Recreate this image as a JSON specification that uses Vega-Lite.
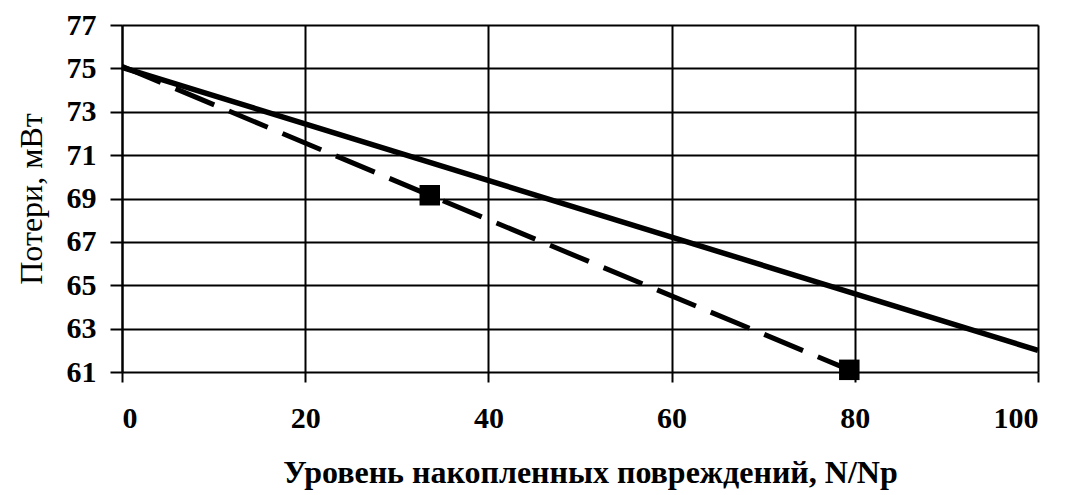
{
  "$schema": "https://vega.github.io/schema/vega-lite/v6.json",
  "autosize": {"type": "none"},
  "width": 916,
  "height": 347,
  "padding": {"left": 122, "top": 25, "right": 28, "bottom": 123},
  "background": "white",
  "config": {
    "view": {"stroke": null},
    "font": "Liberation Serif"
  },
  "datasets": {
    "solid": [
      {"x": 0, "y": 75.05},
      {"x": 100, "y": 62.0}
    ],
    "dashed": [
      {"x": 0, "y": 75.1},
      {"x": 33.6, "y": 69.15},
      {"x": 79.4, "y": 61.1}
    ],
    "markers": [
      {"x": 33.6, "y": 69.15},
      {"x": 79.4, "y": 61.1}
    ]
  },
  "encoding": {
    "x": {
      "field": "x", "type": "quantitative",
      "scale": {"domain": [0, 100], "nice": false, "zero": false},
      "axis": {
        "values": [0, 20, 40, 60, 80, 100],
        "title": "Уровень накопленных повреждений, N/Np",
        "titleFont": "Liberation Serif", "titleFontSize": 32, "titleFontWeight": "bold", "titleColor": "black",
        "titlePadding": 24, "titleX": 468,
        "labelFont": "Liberation Serif", "labelFontSize": 30, "labelFontWeight": "bold", "labelColor": "black",
        "labelPadding": 21,
        "tickSize": 10, "tickColor": "black", "tickWidth": 2,
        "grid": true, "gridColor": "black", "gridWidth": 2, "gridOpacity": 1,
        "domain": false
      }
    },
    "y": {
      "field": "y", "type": "quantitative",
      "scale": {"domain": [61, 77], "nice": false, "zero": false},
      "axis": {
        "values": [61, 63, 65, 67, 69, 71, 73, 75, 77],
        "title": "Потери, мВт",
        "titleFont": "Liberation Serif", "titleFontSize": 32, "titleFontWeight": "normal", "titleColor": "black",
        "titlePadding": 18,
        "labelFont": "Liberation Serif", "labelFontSize": 30, "labelFontWeight": "bold", "labelColor": "black",
        "labelPadding": 14,
        "tickSize": 12, "tickColor": "black", "tickWidth": 2,
        "grid": true, "gridColor": "black", "gridWidth": 2, "gridOpacity": 1,
        "domain": true, "domainColor": "black", "domainWidth": 2
      }
    }
  },
  "layer": [
    {
      "data": {"name": "solid"},
      "mark": {"type": "line", "color": "black", "strokeWidth": 5.5}
    },
    {
      "data": {"name": "dashed"},
      "mark": {"type": "line", "color": "black", "strokeWidth": 5, "strokeDash": [42, 16]}
    },
    {
      "data": {"name": "markers"},
      "mark": {"type": "square", "color": "black", "opacity": 1, "filled": true, "size": 420}
    }
  ]
}
